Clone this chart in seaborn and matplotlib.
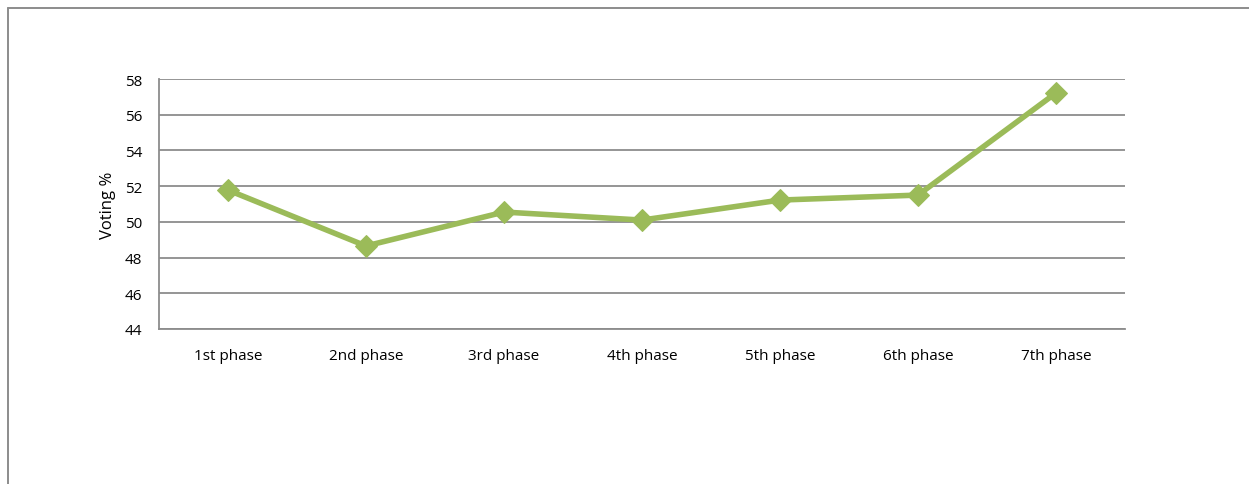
import pandas as pd
import matplotlib
matplotlib.use("Agg")
import matplotlib.pyplot as plt
from matplotlib.lines import Line2D
import seaborn as sns

phases = ["1st phase", "2nd phase", "3rd phase", "4th phase",
          "5th phase", "6th phase", "7th phase"]
voting = [51.78, 48.65, 50.55, 50.1, 51.22, 51.5, 57.22]

df = pd.DataFrame({"phase": phases, "voting": voting})

sns.set_style("white")
plt.rcParams["font.family"] = ["Open Sans", "DejaVu Sans"]

fig = plt.figure(figsize=(12.49, 4.85), dpi=100)
ax = fig.add_axes([0.1273, 0.3196, 0.7734, 0.5154])

green = "#9BBB59"
sns.lineplot(data=df, x="phase", y="voting", ax=ax, color=green,
             linewidth=4, marker="D", markersize=11,
             markeredgecolor=green, sort=False)

ax.set_xlim(-0.5, len(phases) - 0.5)
ax.set_ylim(44, 58)
ax.set_yticks(range(44, 59, 2))
ax.yaxis.grid(True, color="#8C8C8C", linewidth=1.3)
ax.set_axisbelow(True)

for side in ["top", "right"]:
    ax.spines[side].set_visible(False)
for side in ["left", "bottom"]:
    ax.spines[side].set_color("#8C8C8C")
    ax.spines[side].set_linewidth(1.3)

ax.tick_params(axis="both", length=0, labelsize=11, colors="black")
ax.tick_params(axis="x", pad=14)
ax.tick_params(axis="y", pad=12)
ax.set_xlabel("")
ax.set_ylabel("Voting %", fontsize=12, color="black", labelpad=6)

# outer chart frame (partially cropped in the original)
fig.add_artist(Line2D([0.0064, 0.0064], [0.0, 0.982], transform=fig.transFigure,
                      color="#8C8C8C", linewidth=1.4))
fig.add_artist(Line2D([0.0064, 1.0], [0.982, 0.982], transform=fig.transFigure,
                      color="#8C8C8C", linewidth=1.4))

fig.savefig("out.png", dpi=100)
